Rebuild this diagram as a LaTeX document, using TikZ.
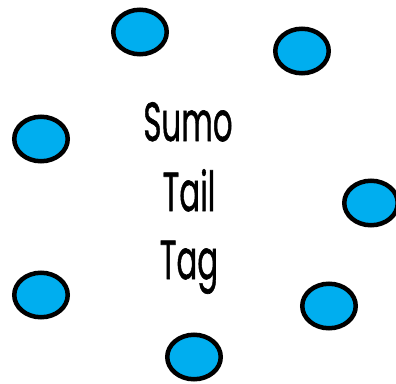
\documentclass[tikz,border=0pt]{standalone}
\usepackage{fontspec}
\setmainfont{Poppins}
\newfontfamily\wordfont{Poppins}[FakeBold=1.2]
\definecolor{dotblue}{RGB}{0,174,239}
\tikzset{
  dot/.style={ellipse, draw=black, fill=dotblue, line width=4.5pt, minimum width=53.5pt, minimum height=44.5pt, inner sep=0pt},
  word/.style={font=\fontsize{55}{55}\wordfont, inner sep=0pt, anchor=base}
}
\usetikzlibrary{shapes.geometric}
\begin{document}
\begin{tikzpicture}[x=1pt,y=-1pt]
\useasboundingbox (0,0) rectangle (396,383);
\node[dot] (e1) at (140,32) {};
\node[dot] (e2) at (302,51) {};
\node[dot] (e3) at (41,139) {};
\node[dot] (e4) at (371,203) {};
\node[dot] (e5) at (41,295) {};
\node[dot] (e6) at (329,306) {};
\node[dot] (e7) at (194,357) {};
\node[word] (t1) at (188,141) {\scalebox{0.56}[1]{Sumo}};
\node[word] (t2) at (189,211) {\scalebox{0.56}[1]{Tail}};
\node[word] (t3) at (189,279) {\scalebox{0.56}[1]{Tag}};
\end{tikzpicture}
\end{document}
